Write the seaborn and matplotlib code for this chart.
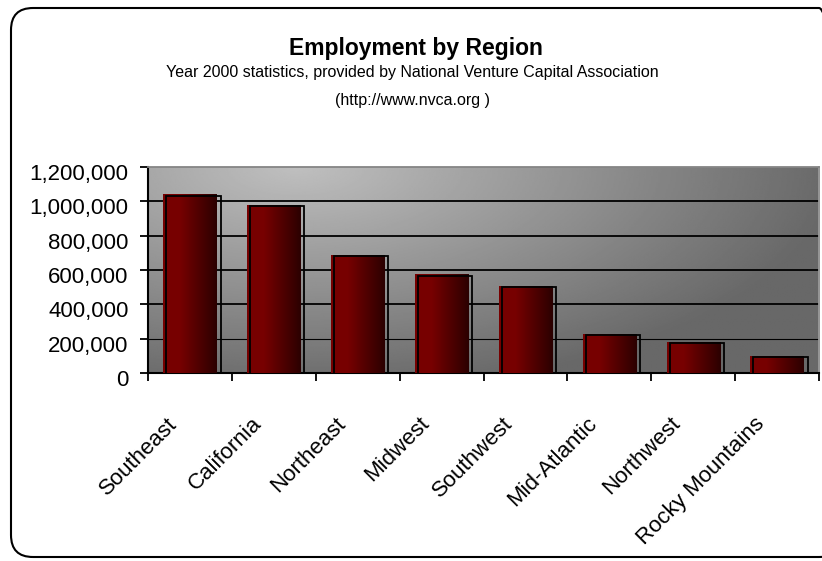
import numpy as np
import matplotlib
matplotlib.use("Agg")
import matplotlib.pyplot as plt
from matplotlib.patches import FancyBboxPatch, Rectangle
from matplotlib.transforms import ScaledTranslation
from matplotlib.ticker import FuncFormatter
import seaborn as sns

# data
regions = ["Southeast", "California", "Northeast", "Midwest", "Southwest",
           "Mid-Atlantic", "Northwest", "Rocky Mountains"]
employment = [1040000, 980000, 690000, 575000, 507000, 228000, 182000, 100000]
y_ticks = [0, 200000, 400000, 600000, 800000, 1000000, 1200000]

title = "Employment by Region"
subtitle = "Year 2000 statistics, provided by National Venture Capital Association"
url_line = "(http://www.nvca.org )"

sns.set_theme(style="white")
plt.rcParams["font.family"] = ["Liberation Sans", "DejaVu Sans"]
plt.rcParams["text.color"] = "black"
plt.rcParams["xtick.color"] = "black"
plt.rcParams["ytick.color"] = "black"

fig = plt.figure(figsize=(8.22, 5.61), dpi=100)
ax = fig.add_axes([148 / 822, 188 / 561, 671 / 822, 206 / 561])

# rounded frame around the whole chart
frame = FancyBboxPatch((0.11, 0.04), 8.3, 5.49,
                       boxstyle="round,pad=0,rounding_size=0.22",
                       transform=fig.dpi_scale_trans, fill=False,
                       ec="black", lw=1.5, zorder=0)
fig.patches.append(frame)

fig.text(0.506, 1 - 48 / 561, title, ha="center", va="center",
         fontsize=16.5, fontweight="bold")
fig.text(0.502, 1 - 73 / 561, subtitle, ha="center", va="center", fontsize=11.5)
fig.text(0.502, 1 - 101 / 561, url_line, ha="center", va="center", fontsize=11.5)

# gray gradient plot background
gx, gy = np.meshgrid(np.linspace(0, 1, 400), np.linspace(0, 1, 200))
shade = np.clip(1 - np.sqrt(((gx - 0.22) / 0.8) ** 2 + ((1 - gy) / 1.1) ** 2), 0, 1)
bg = 0.41 + (0.75 - 0.41) * shade
ax.imshow(bg, cmap="gray", vmin=0, vmax=1, origin="lower", aspect="auto",
          extent=[0, 1, 0, 1], transform=ax.transAxes, zorder=0)

sns.barplot(x=regions, y=employment, color="#780000", width=0.635,
            saturation=1, linewidth=0, edgecolor="none", ax=ax, zorder=3)

# horizontal red gradient inside each bar plus offset black outline
t = np.linspace(0, 1, 100)
frac = np.clip((t - 0.3) / 0.7, 0, 1)
red = np.zeros((1, 100, 3))
red[0, :, 0] = 0.47 - (0.47 - 0.17) * frac
shift = ax.transData + ScaledTranslation(3 / 100, -1.5 / 100, fig.dpi_scale_trans)
for bar in list(ax.patches):
    x0, w, h = bar.get_x(), bar.get_width(), bar.get_height()
    im = ax.imshow(red, extent=[x0, x0 + w, 0, h], aspect="auto", zorder=3.5)
    im.set_clip_path(bar)
    ax.add_patch(Rectangle((x0, 0), w + 0.012, h, fill=False, ec="black",
                           lw=1.3, transform=shift, zorder=4))

ax.set_xlim(-0.5, len(regions) - 0.5)
ax.set_ylim(0, 1200000)
ax.set_yticks(y_ticks)
ax.yaxis.set_major_formatter(FuncFormatter(lambda v, p: f"{v:,.0f}"))
ax.set_xlabel("")
ax.set_ylabel("")

ax.yaxis.grid(True, color="black", lw=1.3, zorder=1)
ax.set_axisbelow(True)
grid_lines = ax.yaxis.get_gridlines()
grid_lines[1].set_linewidth(0.8)
grid_lines[-1].set_visible(False)

ax.tick_params(axis="y", direction="out", length=6, width=1.3, color="black",
               labelcolor="black", labelsize=16, pad=8, left=True)
ax.tick_params(axis="x", which="major", length=0, labelsize=16, pad=29,
               labelcolor="black")
ax.set_xticks(np.arange(-0.5, len(regions)), minor=True)
ax.tick_params(axis="x", which="minor", direction="out", length=6, width=1.3,
               color="black", bottom=True)

for lab in ax.get_yticklabels():
    lab.set_transform(lab.get_transform() + ScaledTranslation(0, -5 / 100, fig.dpi_scale_trans))
for lab in ax.get_xticklabels():
    lab.set_rotation(45)
    lab.set_ha("right")
    lab.set_va("top")
    lab.set_rotation_mode("anchor")
    lab.set_transform(lab.get_transform() + ScaledTranslation(-23 / 100, 0, fig.dpi_scale_trans))

for side in ["left", "bottom"]:
    ax.spines[side].set_color("black")
    ax.spines[side].set_linewidth(1.5)
ax.spines["top"].set_color("#858585")
ax.spines["top"].set_linewidth(1.3)
ax.spines["right"].set_color("#9a9a9a")
ax.spines["right"].set_linewidth(1.3)

fig.savefig("out.png", dpi=100)
